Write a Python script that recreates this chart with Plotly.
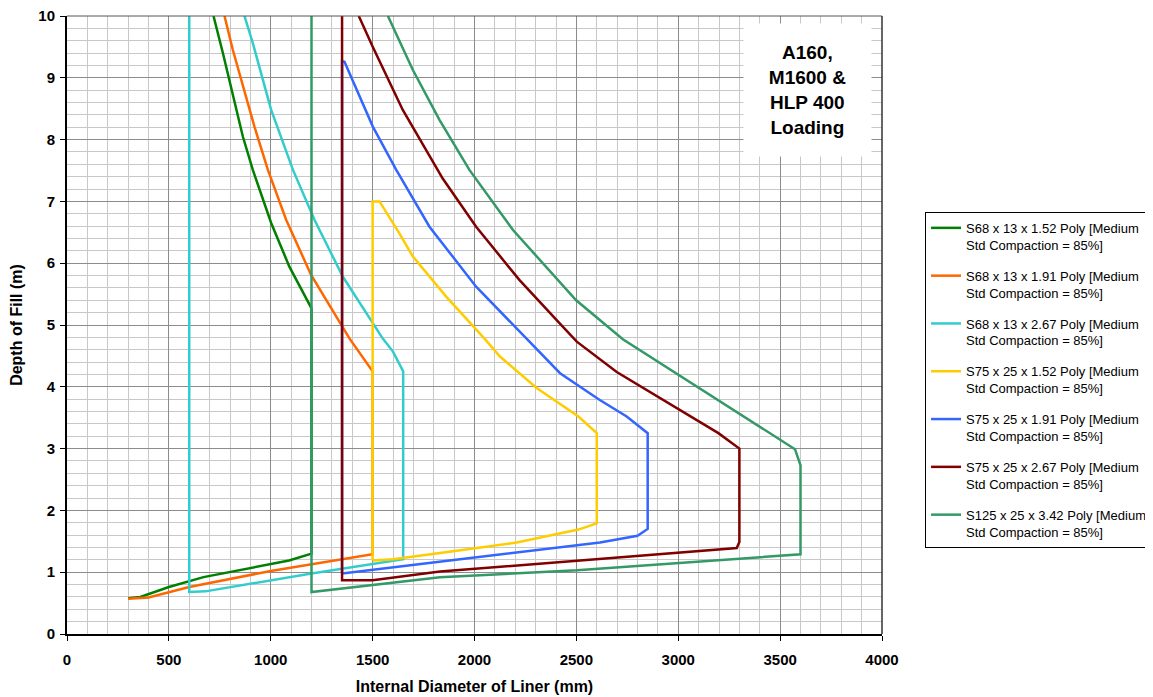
import plotly.graph_objects as go

# ---------------- data ----------------
names = [
    "S68 x 13 x 1.52 Poly [Medium<br>Std Compaction = 85%]",
    "S68 x 13 x 1.91 Poly [Medium<br>Std Compaction = 85%]",
    "S68 x 13 x 2.67 Poly [Medium<br>Std Compaction = 85%]",
    "S75 x 25 x 1.52 Poly [Medium<br>Std Compaction = 85%]",
    "S75 x 25 x 1.91 Poly [Medium<br>Std Compaction = 85%]",
    "S75 x 25 x 2.67 Poly [Medium<br>Std Compaction = 85%]",
    "S125 x 25 x 3.42 Poly [Medium<br>Std Compaction = 85%]",
]
colors = ["#008000", "#FF6600", "#33CCCC", "#FFCC00", "#3366FF", "#800000", "#339966"]

s68_152_x = [300, 360, 500, 670, 1090, 1200, 1200, 1092, 1002, 912, 863, 814, 765, 719]
s68_152_y = [0.58, 0.60, 0.76, 0.92, 1.19, 1.30, 5.27, 5.94, 6.65, 7.51, 8.05, 8.75, 9.40, 10.0]

s68_191_x = [300, 400, 600, 1000, 1500, 1500, 1387, 1346, 1198, 1076, 986, 920, 863, 814, 773]
s68_191_y = [0.57, 0.59, 0.76, 1.02, 1.29, 4.25, 4.78, 5.00, 5.81, 6.70, 7.51, 8.21, 8.86, 9.45, 10.0]

s68_267_x = [600, 600, 680, 1200, 1650, 1650, 1600, 1550, 1501, 1354, 1215, 1109, 1002, 912, 871]
s68_267_y = [10.0, 0.68, 0.69, 0.98, 1.21, 4.25, 4.57, 4.78, 5.03, 5.78, 6.70, 7.51, 8.48, 9.56, 10.0]

s75_152_x = [1500, 1500, 1534, 1632, 1697, 1861, 2049, 2125, 2305, 2510, 2600, 2600, 2510, 2207, 1831, 1600, 1500]
s75_152_y = [1.19, 7.00, 7.00, 6.48, 6.11, 5.46, 4.78, 4.49, 3.98, 3.52, 3.25, 1.79, 1.69, 1.48, 1.31, 1.21, 1.19]

s75_191_x = [1350, 1350, 1362, 1501, 1616, 1779, 2008, 2254, 2420, 2613, 2747, 2850, 2850, 2800, 2616, 1929, 1500, 1350]
s75_191_y = [0.98, 9.27, 9.26, 8.21, 7.51, 6.59, 5.62, 4.78, 4.22, 3.79, 3.52, 3.25, 1.70, 1.59, 1.48, 1.21, 1.04, 0.98]

s75_267_x = [1432, 1501, 1648, 1844, 2008, 2220, 2417, 2502, 2698, 2924, 2976, 3197, 3300, 3300, 3287, 2503, 1831, 1500, 1350, 1350]
s75_267_y = [10.0, 9.50, 8.48, 7.37, 6.59, 5.73, 5.03, 4.73, 4.24, 3.79, 3.68, 3.25, 3.00, 1.49, 1.39, 1.19, 1.01, 0.87, 0.87, 10.0]

s125_342_x = [1575, 1697, 1828, 1975, 2188, 2417, 2499, 2728, 2908, 3202, 3352, 3573, 3600, 3600, 2503, 1831, 1200, 1200]
s125_342_y = [10.0, 9.13, 8.32, 7.51, 6.54, 5.70, 5.40, 4.77, 4.39, 3.77, 3.46, 2.99, 2.73, 1.29, 1.03, 0.92, 0.68, 10.0]

series_x = [s68_152_x, s68_191_x, s68_267_x, s75_152_x, s75_191_x, s75_267_x, s125_342_x]
series_y = [s68_152_y, s68_191_y, s68_267_y, s75_152_y, s75_191_y, s75_267_y, s125_342_y]

x_ticks = [0, 500, 1000, 1500, 2000, 2500, 3000, 3500, 4000]
y_ticks = [0, 1, 2, 3, 4, 5, 6, 7, 8, 9, 10]
box_text = "A160,<br>M1600 &<br>HLP 400<br>Loading"

# ---------------- figure ----------------
FONT = "Arial, Liberation Sans, sans-serif"
fig = go.Figure()
for i, (nm, c, xs, ys) in enumerate(zip(names, colors, series_x, series_y)):
    fig.add_trace(go.Scatter(
        x=xs, y=ys, mode="lines", name=nm, legendgroup=f"g{i}",
        line=dict(color=c, width=2.5), hoverinfo="skip",
    ))

fig.update_layout(
    width=1153, height=697,
    margin=dict(l=59, r=279, t=8, b=71, autoexpand=False),
    paper_bgcolor="white", plot_bgcolor="white",
    font=dict(family=FONT, size=12, color="black"),
    showlegend=True,
    legend=dict(
        x=1.0528, y=0.683, xanchor="left", yanchor="top",
        bordercolor="black", borderwidth=1, bgcolor="white",
        font=dict(family=FONT, size=13, color="black"),
        tracegroupgap=11, traceorder="grouped", valign="top",
        itemwidth=30,
    ),
    xaxis=dict(
        range=[0, 4000], tickvals=x_ticks, ticktext=[str(v) for v in x_ticks],
        showgrid=True, gridcolor="#8c8c8c", gridwidth=1,
        minor=dict(dtick=100, showgrid=True, gridcolor="#c8c8c8", gridwidth=1),
        showline=True, linecolor="black", linewidth=2,
        ticks="outside", ticklen=5, tickcolor="black",
        tickfont=dict(family=FONT, size=15, color="black", weight="bold"),
        ticklabelstandoff=6, ticklabeloverflow="allow",
        zeroline=False,
        title=dict(text="<b>Internal Diameter of Liner (mm)</b>",
                   font=dict(family=FONT, size=16, color="black"), standoff=14),
    ),
    yaxis=dict(
        range=[0, 10], tickvals=y_ticks, ticktext=[str(v) for v in y_ticks],
        showgrid=True, gridcolor="#8c8c8c", gridwidth=1,
        minor=dict(dtick=0.2, showgrid=True, gridcolor="#c8c8c8", gridwidth=1),
        showline=True, linecolor="black", linewidth=2,
        ticks="outside", ticklen=5, tickcolor="black",
        tickfont=dict(family=FONT, size=15, color="black", weight="bold"),
        ticklabelstandoff=2, ticklabeloverflow="allow",
        zeroline=False,
        title=dict(text="<b>Depth of Fill (m)</b>",
                   font=dict(family=FONT, size=16, color="black"), standoff=19),
    ),
    shapes=[
        dict(type="line", xref="paper", yref="paper", x0=0, x1=1, y0=1, y1=1,
             line=dict(color="#555555", width=1)),
        dict(type="line", xref="paper", yref="paper", x0=1, x1=1, y0=0, y1=1,
             line=dict(color="#333333", width=1.5)),
    ],
    annotations=[
        dict(x=3634, y=8.80, xref="x", yref="y", text="<b>" + box_text + "</b>",
             showarrow=False, bgcolor="white", width=125, height=130,
             font=dict(family=FONT, size=19, color="black"), align="center"),
    ],
)

fig.write_html("out.html")
